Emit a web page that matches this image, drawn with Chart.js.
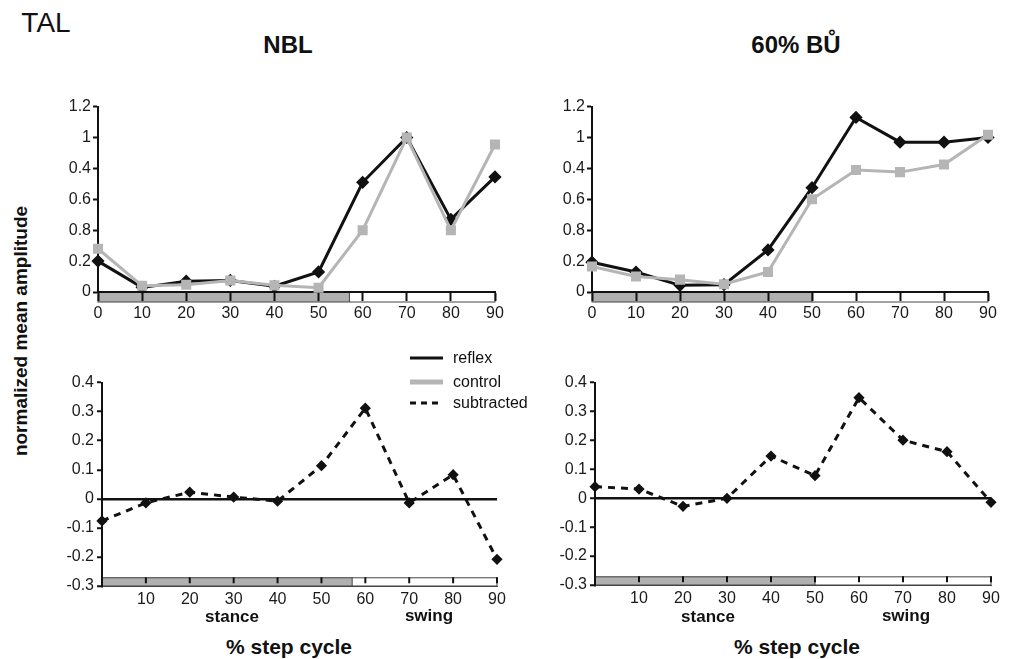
<!DOCTYPE html>
<html>
<head>
<meta charset="utf-8">
<script src="https://cdn.jsdelivr.net/npm/chart.js@4.4.0/dist/chart.umd.min.js"></script>
<style>
  body { margin: 0; width: 1014px; height: 659px; position: relative; overflow: hidden; background: #fff;
         font-family: "Liberation Sans", Arial, sans-serif; color: #111; }
  canvas { position: absolute; }
  .t { position: absolute; white-space: nowrap; line-height: 1; transform: translate(-50%, -50%); }
  .b { font-weight: bold; }
  .leg { position: absolute; left: 410px; font-size: 16px; line-height: 1; }
  .leg div { position: absolute; white-space: nowrap; }
  .leg svg { position: absolute; left: 0; }
</style>
</head>
<body>
<div class="t" style="left:46px;top:23px;font-size:28px;">TAL</div>
<div class="t b" style="left:288px;top:45px;font-size:24px;">NBL</div>
<div class="t b" style="left:796px;top:45px;font-size:24px;">60% BŮ</div>
<div class="t b" style="left:20px;top:331px;font-size:19px;transform:translate(-50%,-50%) rotate(-90deg);">normalized mean amplitude</div>

<canvas id="c1" width="490" height="230" style="left:30px;top:95px;"></canvas>
<canvas id="c2" width="490" height="230" style="left:522px;top:95px;"></canvas>
<canvas id="c3" width="490" height="240" style="left:30px;top:370px;"></canvas>
<canvas id="c4" width="490" height="240" style="left:522px;top:370px;"></canvas>

<div class="leg" style="top:348px;">
  <svg width="34" height="60" style="top:0">
    <line x1="0" y1="10" x2="33" y2="10" stroke="#111" stroke-width="3"/>
    <line x1="0" y1="34" x2="33" y2="34" stroke="#b5b5b5" stroke-width="5"/>
    <line x1="0" y1="55" x2="33" y2="55" stroke="#111" stroke-width="3" stroke-dasharray="6 5"/>
  </svg>
  <div style="left:43px;top:2px;">reflex</div>
  <div style="left:43px;top:26px;">control</div>
  <div style="left:43px;top:47px;">subtracted</div>
</div>

<div class="t b" style="left:232px;top:616px;font-size:17px;">stance</div>
<div class="t b" style="left:429px;top:615px;font-size:17px;">swing</div>
<div class="t b" style="left:708px;top:616px;font-size:17px;">stance</div>
<div class="t b" style="left:906px;top:615px;font-size:17px;">swing</div>
<div class="t b" style="left:289px;top:646px;font-size:21px;">% step cycle</div>
<div class="t b" style="left:797px;top:646px;font-size:21px;">% step cycle</div>

<script>
const stepCycle = [0, 10, 20, 30, 40, 50, 60, 70, 80, 90];

const nblReflex  = [0.20, 0.03, 0.07, 0.075, 0.037, 0.13, 0.71, 1.0, 0.47, 0.745];
const nblControl = [0.28, 0.04, 0.047, 0.075, 0.043, 0.028, 0.40, 1.0, 0.40, 0.955];
const buReflex   = [0.193, 0.129, 0.043, 0.047, 0.272, 0.675, 1.13, 0.97, 0.97, 1.0];
const buControl  = [0.165, 0.10, 0.08, 0.05, 0.13, 0.60, 0.79, 0.776, 0.825, 1.018];

const nblSubtracted = [-0.076, -0.014, 0.023, 0.006, -0.008, 0.114, 0.312, -0.014, 0.083, -0.208];
const buSubtracted  = [0.04, 0.032, -0.028, 0.0, 0.146, 0.078, 0.348, 0.201, 0.161, -0.014];

// labels as printed on the original upper axes
const topTickLabels = ['0', '0.2', '0.8', '0.6', '0.4', '1', '1.2'];
const stanceEnd = [57, 50]; // NBL, 60% BU

Chart.defaults.font.family = '"Liberation Sans", Arial, sans-serif';
Chart.defaults.font.size = 16;
Chart.defaults.color = '#1a1a1a';

const pts = arr => stepCycle.map((x, i) => ({ x: x, y: arr[i] }));

// stance / swing strip along the x axis
const phaseBar = {
  id: 'phaseBar',
  beforeDraw(chart, args, opts) {
    const { ctx, chartArea } = chart;
    const x = chart.scales.x, y = chart.scales.y;
    const x0 = x.getPixelForValue(0), x1 = x.getPixelForValue(opts.end), x2 = x.getPixelForValue(90);
    let top, bottom;
    if (opts.below) {
      top = chartArea.bottom; bottom = top + 10;
    } else {
      top = y.getPixelForValue(-0.27); bottom = y.getPixelForValue(-0.3);
    }
    ctx.save();
    ctx.fillStyle = '#b0b0b0';
    ctx.fillRect(x0, top, x1 - x0, bottom - top);
    ctx.strokeStyle = '#444';
    ctx.lineWidth = 1;
    ctx.strokeRect(x0, top + 0.5, x2 - x0, bottom - top - 0.5);
    ctx.beginPath();
    ctx.moveTo(x1, top); ctx.lineTo(x1, bottom);
    ctx.stroke();
    if (!opts.below) {
      ctx.strokeStyle = '#111';
      ctx.lineWidth = 2;
      x.ticks.forEach(t => {
        if (t.value <= 0) return;
        const px = x.getPixelForValue(t.value);
        ctx.beginPath();
        ctx.moveTo(px, top); ctx.lineTo(px, top + 6);
        ctx.stroke();
      });
    }
    ctx.restore();
  }
};

function reflexSet(arr) {
  return {
    label: 'reflex', data: pts(arr), borderColor: '#111', backgroundColor: '#111',
    borderWidth: 3, pointStyle: 'rectRot', pointRadius: 4.5, clip: false, tension: 0
  };
}
function controlSet(arr) {
  return {
    label: 'control', data: pts(arr), borderColor: '#b5b5b5', backgroundColor: '#b5b5b5',
    borderWidth: 3, pointStyle: 'rect', pointRadius: 5, clip: false, tension: 0
  };
}
function subtractedSet(arr) {
  return {
    label: 'subtracted', data: pts(arr), borderColor: '#111', backgroundColor: '#111',
    borderWidth: 3, borderDash: [7, 6], pointStyle: 'rectRot', pointRadius: 3.5, clip: false, tension: 0
  };
}

function topChart(id, reflex, control, yWidth, padRight, end) {
  return new Chart(document.getElementById(id), {
    type: 'line',
    data: { datasets: [controlSet(control), reflexSet(reflex)] },
    plugins: [phaseBar],
    options: {
      responsive: false, animation: false,
      layout: { padding: { top: 10, right: padRight, bottom: 0, left: 0 } },
      plugins: { legend: { display: false }, tooltip: { enabled: false }, phaseBar: { end: end, below: true } },
      scales: {
        x: {
          type: 'linear', min: 0, max: 90,
          ticks: { stepSize: 10, padding: 3 },
          grid: { drawOnChartArea: false, tickLength: 9, tickColor: '#111', tickWidth: 2 },
          border: { color: '#111', width: 2 },
          afterFit: s => { s.height = 33; }
        },
        y: {
          min: 0, max: 1.2,
          ticks: { stepSize: 0.2, padding: 2, callback: v => topTickLabels[Math.round(v * 5)] },
          grid: { drawOnChartArea: false, tickLength: 5, tickColor: '#111', tickWidth: 2 },
          border: { color: '#111', width: 2 },
          afterFit: s => { s.width = yWidth; }
        }
      }
    }
  });
}

function bottomChart(id, sub, yWidth, padRight, padTop, xHeight, end) {
  return new Chart(document.getElementById(id), {
    type: 'line',
    data: { datasets: [subtractedSet(sub)] },
    plugins: [phaseBar],
    options: {
      responsive: false, animation: false,
      layout: { padding: { top: padTop, right: padRight, bottom: 0, left: 0 } },
      plugins: { legend: { display: false }, tooltip: { enabled: false }, phaseBar: { end: end, below: false } },
      scales: {
        x: {
          type: 'linear', min: 0, max: 90,
          ticks: { stepSize: 10, padding: 4, callback: v => (v === 0 ? '' : String(v)) },
          grid: { display: false, drawTicks: false, tickLength: 0 },
          border: { color: '#444', width: 1 },
          afterFit: s => { s.height = xHeight; }
        },
        y: {
          min: -0.3, max: 0.4,
          ticks: { stepSize: 0.1, padding: 3, callback: v => (Math.abs(v) < 1e-9 ? '0' : v.toFixed(1)) },
          grid: {
            color: c => (c.tick && Math.abs(c.tick.value) < 1e-9 ? '#111' : 'rgba(0,0,0,0)'),
            lineWidth: 2.5, tickLength: 5, tickColor: '#111', tickWidth: 2
          },
          border: { color: '#111', width: 2 },
          afterFit: s => { s.width = yWidth; }
        }
      }
    }
  });
}

topChart('c1', nblReflex, nblControl, 68, 25, stanceEnd[0]);
topChart('c2', buReflex, buControl, 70, 24, stanceEnd[1]);
bottomChart('c3', nblSubtracted, 72, 23, 11, 24, stanceEnd[0]);
bottomChart('c4', buSubtracted, 73, 21, 10, 25, stanceEnd[1]);
</script>
</body>
</html>
